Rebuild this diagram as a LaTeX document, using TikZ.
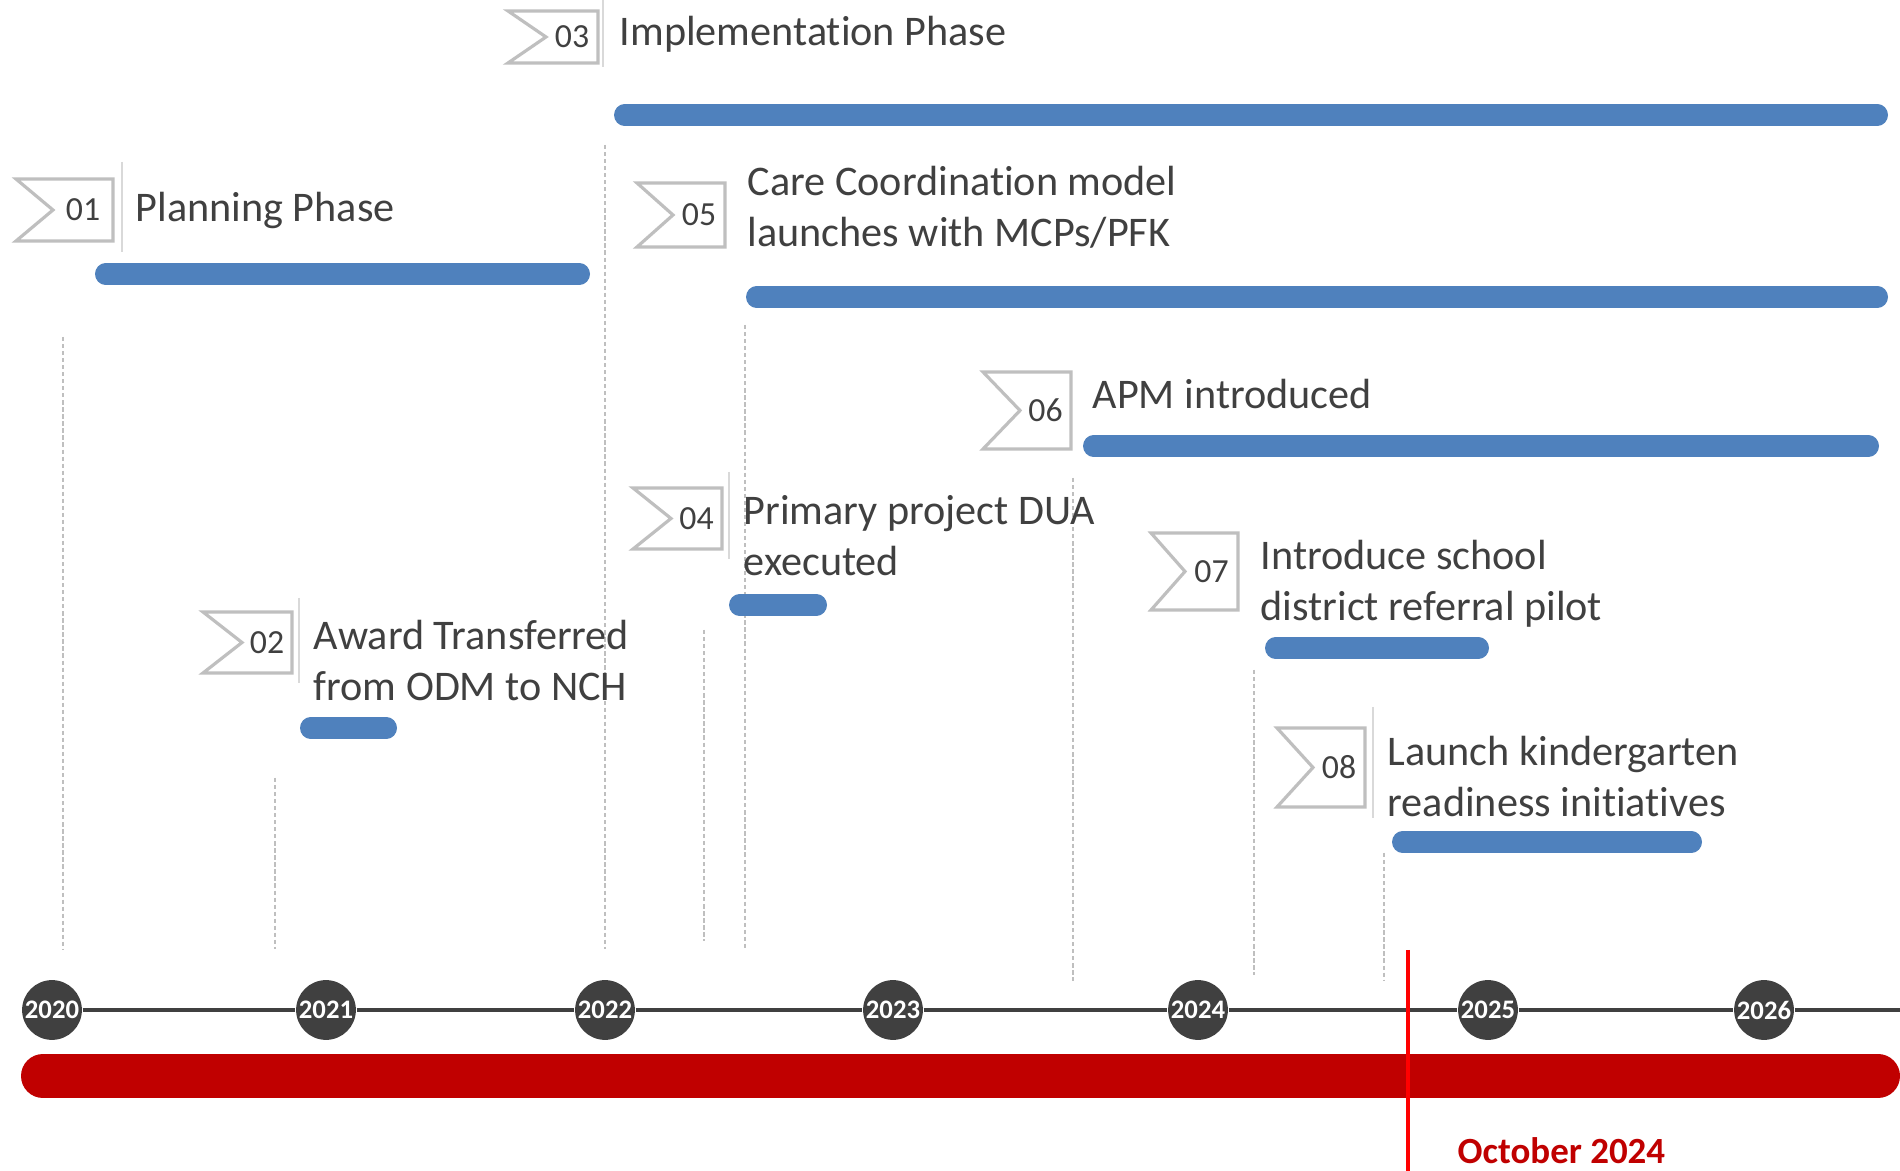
\documentclass[tikz,border=0pt]{standalone}
\usepackage{fontspec}
\setmainfont{Carlito}[Ligatures=NoCommon]
\usepackage{tikz}

\definecolor{textgray}{HTML}{404040}
\definecolor{flaggray}{HTML}{BFBFBF}
\definecolor{sepgray}{HTML}{D9D9D9}
\definecolor{barblue}{HTML}{4F81BD}
\definecolor{darkred}{HTML}{C00000}

% flag with notch: #1 name, #2 number, #3 left, #4 top, #5 right, #6 bottom, #7 notch
\newcommand{\flagmark}[7]{%
  \draw[flag] (#3,#4) -- (#5,#4) -- (#5,#6) -- (#3,#6) -- (#7,{(#4+#6)/2}) -- cycle;
  \node[num] (#1) at ({(#7+#5)/2},{(#4+#6)/2}) {#2};
}

\begin{document}
\begin{tikzpicture}[x=0.01cm,y=-0.01cm,
  flag/.style={draw=flaggray,line width=0.9pt,fill=white},
  num/.style={inner sep=0pt,text=textgray,font=\fontsize{9.6}{10}\selectfont},
  title/.style={anchor=north west,inner sep=0pt,align=left,text=textgray,font=\fontsize{12}{14.5}\selectfont},
  bar/.style={draw=barblue,line width=6pt,line cap=round,shorten <=3pt,shorten >=3pt},
  drop/.style={draw=flaggray,line width=0.45pt,dash pattern=on 1.2pt off 0.8pt},
  sep/.style={draw=sepgray,line width=0.3pt},
  yearcirc/.style={circle,fill=textgray,minimum size=17pt,inner sep=0pt,text=white,font=\bfseries\fontsize{7.6}{8}\selectfont}]
\fill[white] (0,0) rectangle (1900,1171);
\useasboundingbox (0,0) rectangle (1900,1171);

% dashed drop lines
\draw[drop] (63,337) -- (63,949);
\draw[drop] (275,778) -- (275,949);
\draw[drop] (605,145) -- (605,949);
\draw[drop] (704,630) -- (704,941);
\draw[drop] (745,325) -- (745,949);
\draw[drop] (1073,478) -- (1073,981);
\draw[drop] (1254,670) -- (1254,975);
\draw[drop] (1384,853) -- (1384,981);

% separators
\draw[sep] (122,162) -- (122,252);
\draw[sep] (299,598) -- (299,683);
\draw[sep] (603,0) -- (603,67);
\draw[sep] (729,472) -- (729,559);
\draw[sep] (1373,707) -- (1373,818);

% bars
\draw[bar] (95,274) -- (590,274);
\draw[bar] (300,728) -- (397,728);
\draw[bar] (614,115) -- (1888,115);
\draw[bar] (729,605) -- (827,605);
\draw[bar] (746,297) -- (1888,297);
\draw[bar] (1083,446) -- (1879,446);
\draw[bar] (1265,648) -- (1489,648);
\draw[bar] (1392,842) -- (1702,842);

% flags
\flagmark{f01}{01}{16}{179}{113}{241}{53}
\flagmark{f02}{02}{203}{612}{292}{673}{242}
\flagmark{f03}{03}{508}{11}{598}{63}{546}
\flagmark{f04}{04}{633}{488}{722}{549}{671}
\flagmark{f05}{05}{637}{183}{725}{247}{673}
\flagmark{f06}{06}{983}{372}{1071}{449}{1020}
\flagmark{f07}{07}{1151}{533}{1238}{610}{1185}
\flagmark{f08}{08}{1277}{728}{1365}{807}{1313}

% titles
\node[title] (t01) at (135,192) {Planning Phase};
\node[title] (t02) at (313,620) {Award Transferred\\from ODM to NCH};
\node[title] (t03) at (619,16) {Implementation Phase};
\node[title] (t04) at (743,495) {Primary project DUA\\executed};
\node[title] (t05) at (747,166) {Care Coordination model\\launches with MCPs/PFK};
\node[title] (t06) at (1092,379) {APM introduced};
\node[title] (t07) at (1260,540) {Introduce school\\district referral pilot};
\node[title] (t08) at (1387,736) {Launch kindergarten\\readiness initiatives};

% time axis
\foreach \yr/\xx in {2020/52,2021/326,2022/605,2023/893,2024/1198,2025/1488,2026/1764}
  \node[yearcirc] (y\yr) at (\xx,1010) {\yr};
\draw[textgray,line width=1.1pt] (y2020) -- (y2021) -- (y2022) -- (y2023) -- (y2024) -- (y2025) -- (y2026) -- (1900,1010);

\draw[darkred,line width=12.5pt,line cap=round,shorten <=6.25pt,shorten >=6.25pt] (21,1076) -- (1900,1076);
\draw[red,line width=1pt] (1408,950) -- (1408,1171);
\node[anchor=base west,inner sep=0pt,text=darkred,font=\bfseries\fontsize{10.5}{12}\selectfont] (oct) at (1457,1164) {October 2024};
\end{tikzpicture}
\end{document}
